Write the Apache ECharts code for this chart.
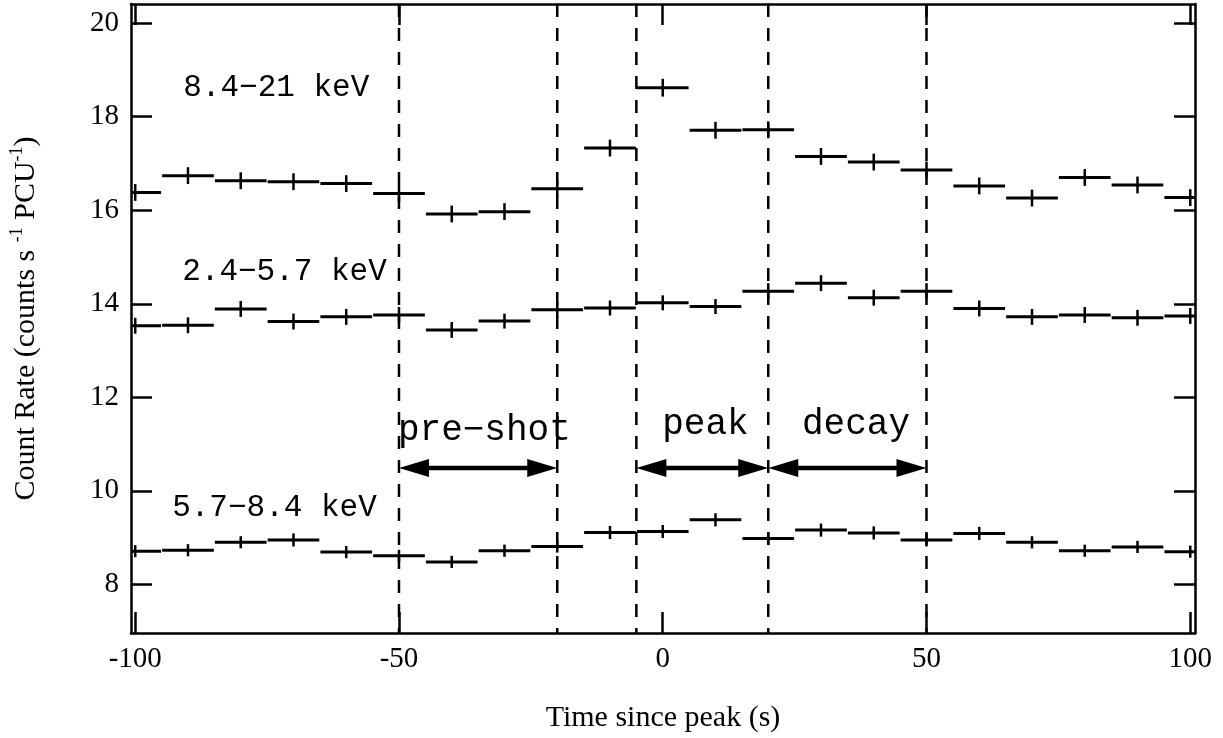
<!DOCTYPE html>
<html>
<head>
<meta charset="utf-8">
<script src="https://cdn.jsdelivr.net/npm/echarts@6/dist/echarts.min.js"></script>
<style>
	html, body { margin: 0; padding: 0; background: #fff; }
	#chart { width: 1223px; height: 738px; }
</style>
</head>
<body>
<div id="chart"></div>
<script>
// bin centres (s) and count rates per energy band
var timeBins = [-100, -90, -80, -70, -60, -50, -40, -30, -20, -10, 0, 10, 20, 30, 40, 50, 60, 70, 80, 90, 100];
var rateHard = [16.38, 16.74, 16.63, 16.61, 16.57, 16.36, 15.92, 15.97, 16.46, 17.33, 18.62, 17.71, 17.72, 17.15, 17.03, 16.86, 16.52, 16.26, 16.70, 16.54, 16.27];
var errHard = [0.18, 0.18, 0.18, 0.18, 0.18, 0.18, 0.18, 0.18, 0.18, 0.18, 0.19, 0.18, 0.18, 0.18, 0.18, 0.18, 0.18, 0.18, 0.18, 0.18, 0.18];
var rateSoft = [13.53, 13.54, 13.89, 13.62, 13.72, 13.76, 13.44, 13.63, 13.87, 13.91, 14.02, 13.94, 14.27, 14.44, 14.13, 14.27, 13.90, 13.72, 13.76, 13.70, 13.74];
var errSoft = [0.17, 0.17, 0.17, 0.17, 0.17, 0.17, 0.17, 0.16, 0.16, 0.16, 0.16, 0.16, 0.17, 0.17, 0.17, 0.17, 0.17, 0.17, 0.17, 0.17, 0.17];
var rateMid = [8.71, 8.73, 8.90, 8.95, 8.69, 8.61, 8.48, 8.72, 8.81, 9.11, 9.13, 9.38, 8.98, 9.16, 9.10, 8.95, 9.09, 8.90, 8.72, 8.80, 8.70];
var errMid = [0.13, 0.13, 0.13, 0.14, 0.13, 0.13, 0.13, 0.13, 0.13, 0.14, 0.14, 0.14, 0.14, 0.14, 0.14, 0.14, 0.14, 0.13, 0.13, 0.13, 0.13];

var xTicks = [-100, -50, 0, 50, 100];
var yTicks = [8, 10, 12, 14, 16, 18, 20];

// interval boundaries
var dashX = [-50, -20, -5, 20, 50];
var arrowFrom = [-50, -5, 20];
var arrowTo = [-20, 20, 50];
var arrowY = [10.49, 10.49, 10.49];

// text annotations
var noteText = ['8.4\u221221 keV', '2.4\u22125.7 keV', '5.7\u22128.4 keV', 'pre\u2212shot', 'peak', 'decay'];
var noteX = [-90.9, -91.1, -93.0, -50.2, -0.1, 26.4];
var noteY = [18.62, 14.68, 9.64, 11.30, 11.41, 11.41];
var noteSize = [31, 31, 31, 36, 36, 36];

var halfBin = 4.9;
var serif = '"Liberation Serif", "Times New Roman", serif';
var mono = '"Liberation Mono", "Courier New", monospace';

function build(rates, errs) {
	var out = [];
	for (var i = 0; i < timeBins.length; i++) {
		out.push([timeBins[i], rates[i], errs[i]]);
	}
	return out;
}

function renderBin(params, api) {
	var x = api.value(0), y = api.value(1), e = api.value(2);
	var l = api.coord([x - halfBin, y]);
	var r = api.coord([x + halfBin, y]);
	var t = api.coord([x, y + e]);
	var b = api.coord([x, y - e]);
	return {
		type: 'group',
		children: [{
			type: 'line',
			shape: { x1: l[0], y1: l[1], x2: r[0], y2: r[1] },
			style: { stroke: '#000', lineWidth: 3 }
		}, {
			type: 'line',
			shape: { x1: t[0], y1: t[1], x2: b[0], y2: b[1] },
			style: { stroke: '#000', lineWidth: 2.5 }
		}]
	};
}

function binSeries(rates, errs) {
	return {
		type: 'custom',
		renderItem: renderBin,
		clip: true,
		encode: { x: 0, y: 1 },
		data: build(rates, errs),
		silent: true
	};
}

var dashData = dashX.map(function(v) { return [v]; });
var arrowData = [];
for (var i = 0; i < arrowFrom.length; i++) {
	arrowData.push([arrowFrom[i], arrowTo[i], arrowY[i]]);
}
var noteData = [];
for (var j = 0; j < noteText.length; j++) {
	noteData.push([noteX[j], noteY[j], j]);
}

var chart = echarts.init(document.getElementById('chart'));

chart.setOption({
	animation: false,
	backgroundColor: '#fff',
	grid: { left: 131, right: 28, top: 4, bottom: 105 },
	xAxis: [{
		type: 'value',
		position: 'bottom',
		min: -100.8,
		max: 100.9,
		name: 'Time since peak (s)',
		nameLocation: 'middle',
		nameGap: 70,
		nameTextStyle: { fontFamily: serif, fontSize: 30, color: '#000' },
		axisLine: { show: true, onZero: false, lineStyle: { color: '#000', width: 2.5 } },
		axisTick: { show: true, inside: true, length: 21, customValues: xTicks, lineStyle: { color: '#000', width: 2.5 } },
		axisLabel: { customValues: xTicks, fontFamily: serif, fontSize: 29, color: '#000', margin: 12 },
		splitLine: { show: false }
	}, {
		type: 'value',
		position: 'top',
		min: -100.8,
		max: 100.9,
		axisLine: { show: true, onZero: false, lineStyle: { color: '#000', width: 2.5 } },
		axisTick: { show: true, inside: true, length: 21, customValues: xTicks, lineStyle: { color: '#000', width: 2.5 } },
		axisLabel: { show: false },
		splitLine: { show: false }
	}],
	yAxis: [{
		type: 'value',
		position: 'left',
		min: 6.96,
		max: 20.41,
		name: 'Count Rate (counts s {sup|-1} PCU{sup|-1})',
		nameLocation: 'middle',
		nameGap: 87,
		nameTextStyle: {
			fontFamily: serif, fontSize: 30, color: '#000', lineHeight: 36,
			rich: {
				sup: { fontFamily: serif, fontSize: 18, color: '#000', verticalAlign: 'top', lineHeight: 36 }
			}
		},
		axisLine: { show: true, onZero: false, lineStyle: { color: '#000', width: 2.5 } },
		axisTick: { show: true, inside: true, length: 21, customValues: yTicks, lineStyle: { color: '#000', width: 2.5 } },
		axisLabel: { customValues: yTicks, fontFamily: serif, fontSize: 29, color: '#000', margin: 12 },
		splitLine: { show: false }
	}, {
		type: 'value',
		position: 'right',
		min: 6.96,
		max: 20.41,
		axisLine: { show: true, onZero: false, lineStyle: { color: '#000', width: 2.5 } },
		axisTick: { show: true, inside: true, length: 21, customValues: yTicks, lineStyle: { color: '#000', width: 2.5 } },
		axisLabel: { show: false },
		splitLine: { show: false }
	}],
	series: [
		binSeries(rateHard, errHard),
		binSeries(rateSoft, errSoft),
		binSeries(rateMid, errMid),
		{
			// dashed interval boundaries
			type: 'custom',
			silent: true,
			data: dashData,
			encode: { x: 0 },
			renderItem: function(params, api) {
				var cs = params.coordSys;
				var p = api.coord([api.value(0), 10]);
				return {
					type: 'line',
					shape: { x1: p[0], y1: cs.y, x2: p[0], y2: cs.y + cs.height },
					style: { stroke: '#000', lineWidth: 2.5, lineDash: [13, 11] }
				};
			}
		},
		{
			// double headed arrows
			type: 'custom',
			silent: true,
			data: arrowData,
			encode: { x: [0, 1], y: 2 },
			renderItem: function(params, api) {
				var a = api.coord([api.value(0), api.value(2)]);
				var b = api.coord([api.value(1), api.value(2)]);
				var hl = 30, hw = 9, y = a[1];
				return {
					type: 'group',
					children: [{
						type: 'line',
						shape: { x1: a[0] + hl - 2, y1: y, x2: b[0] - hl + 2, y2: y },
						style: { stroke: '#000', lineWidth: 4.5 }
					}, {
						type: 'polygon',
						shape: { points: [[a[0], y], [a[0] + hl, y - hw], [a[0] + hl, y + hw]] },
						style: { fill: '#000' }
					}, {
						type: 'polygon',
						shape: { points: [[b[0], y], [b[0] - hl, y - hw], [b[0] - hl, y + hw]] },
						style: { fill: '#000' }
					}]
				};
			}
		},
		{
			// band and interval labels
			type: 'custom',
			silent: true,
			data: noteData,
			encode: { x: 0, y: 1 },
			renderItem: function(params, api) {
				var p = api.coord([api.value(0), api.value(1)]);
				var k = api.value(2);
				return {
					type: 'text',
					x: p[0],
					y: p[1],
					style: {
						text: noteText[k],
						fill: '#000',
						font: noteSize[k] + 'px ' + mono,
						align: 'left',
						verticalAlign: 'middle'
					}
				};
			}
		}
	]
});
</script>
</body>
</html>
